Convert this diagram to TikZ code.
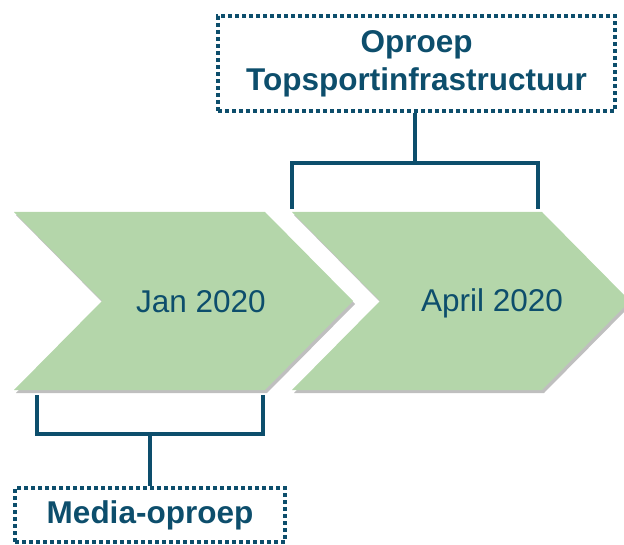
\documentclass[tikz,border=0pt]{standalone}
\usepackage{fontspec}
\setmainfont{Liberation Sans}
\usetikzlibrary{shadows}
\definecolor{ink}{RGB}{13,78,108}
\definecolor{leaf}{RGB}{180,214,170}
\tikzset{
  chev/.style={fill=leaf, draw=none, drop shadow={shadow xshift=2pt, shadow yshift=-3pt, opacity=0.25, fill=black}},
  datetext/.style={text=ink, font=\fontsize{31.5}{38}\selectfont, inner sep=0pt},
  callbox/.style={draw=ink, line width=3.6pt, dash pattern=on 3.6pt off 3.4pt, text=ink,
    font=\bfseries\fontsize{31.5}{38}\selectfont, align=center, inner sep=0pt},
  conn/.style={draw=ink, line width=3.3pt, line join=miter}
}
\begin{document}
\begin{tikzpicture}[x=1pt,y=-1pt]
\useasboundingbox (0,0) rectangle (624,545);
% chevrons
\path[chev] (14,212) -- (265,212) -- (353,301) -- (265,390) -- (14,390) -- (102,301) -- cycle;
\path[chev] (292,212) -- (542,212) -- (630,301) -- (542,390) -- (292,390) -- (380,301) -- cycle;
\node[datetext] (jan) at (201,302) {Jan 2020};
\node[datetext] (apr) at (492,303) {April 2020};
% callout boxes
\node[callbox, minimum width=397pt, minimum height=95pt] (top) at (416.5,63.5) {Oproep\\Topsportinfrastructuur};
\node[callbox, minimum width=270pt, minimum height=54pt] (bot) at (150,515) {Media-oproep};
% top bracket
\coordinate (tl) at (292,209);
\coordinate (tr) at (538,209);
\coordinate (tb) at (415,163);
\draw[conn] (top.south -| tb) -- (tb);
\draw[conn] (tl) |- (tb) -| (tr);
% bottom bracket
\coordinate (bl) at (37,395);
\coordinate (br) at (263,395);
\coordinate (bb) at (150,434);
\draw[conn] (bl) |- (bb) -| (br);
\draw[conn] (bb) -- (bot.north -| bb);
\end{tikzpicture}
\end{document}
